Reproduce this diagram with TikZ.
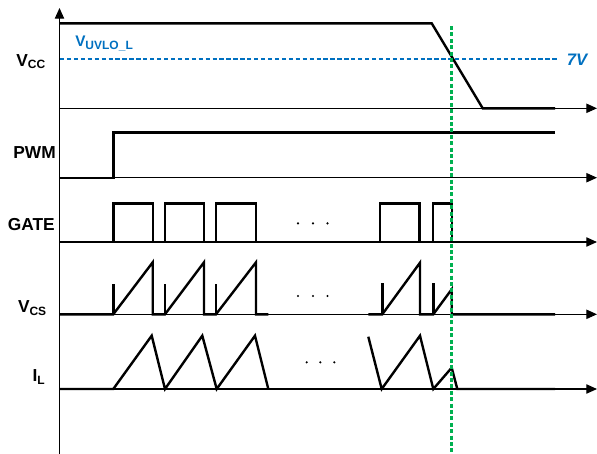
\documentclass[tikz,border=0pt]{standalone}
\usepackage{fontspec}
\setmainfont{Liberation Sans}
\usetikzlibrary{arrows.meta}
\definecolor{uvloblue}{HTML}{0070C0}
\definecolor{markgreen}{HTML}{00B050}
\newcommand{\subtxt}[1]{\raisebox{-2.2pt}{\fontsize{9}{9}\selectfont #1}}

\begin{document}
\begin{tikzpicture}[x=0.75pt,y=-0.75pt,
  axis/.style={line width=0.8pt, -{Triangle[length=8pt,width=7pt]}},
  wave/.style={line width=1.8pt, line join=miter},
  lbl/.style={font=\fontsize{13}{13}\selectfont\bfseries, anchor=base east, inner sep=0pt},
  dotmark/.style={fill=black, circle, inner sep=0pt, minimum size=1.8pt}]
\useasboundingbox (0,0) rectangle (597,454);

% axes
\draw[axis] (59.5,454) -- (59.5,8);
\foreach \yy in {108.3,177.7,242,314.3,389}
  \draw[axis] (59.5,\yy) -- (597,\yy);

% UVLO threshold
\draw[uvloblue, line width=1.7pt, dash pattern=on 3.2pt off 2pt] (60,59) -- (558,59);
\node[font=\fontsize{11.5}{11.5}\selectfont\bfseries, text=uvloblue, anchor=base west, inner sep=0pt]
  (uvlo) at (75,46.7) {V\raisebox{-1.8pt}{\fontsize{9}{9}\selectfont UVLO\_L}};
\node[font=\fontsize{12.5}{12.5}\selectfont\bfseries\itshape, text=uvloblue, anchor=base west, inner sep=0pt]
  (sevenv) at (566.5,65) {7V};

% signal labels
\node[lbl] (lvcc)  at (45.5,66)   {V\subtxt{CC}};
\node[lbl] (lpwm)  at (56,158.3)  {PWM};
\node[lbl] (lgate) at (55,230.7)  {GATE};
\node[lbl] (lvcs)  at (46.5,312.7){V\subtxt{CS}};
\node[lbl] (lil)   at (45,381.7)  {I\subtxt{L}};

% VCC
\draw[wave] (59.5,23.3) -- (431.7,23.3) -- (482.7,108.3) -- (555,108.3);

% PWM
\draw[wave] (59.5,177.7) -- (113.3,177.7) -- (113.3,132.3) -- (555,132.3);

% GATE
\draw[wave] (59.5,242) -- (113.3,242) -- (113.3,203.3) -- (152.7,203.3) -- (152.7,242)
  -- (165,242) -- (165,203.3) -- (204,203.3) -- (204,242)
  -- (216,242) -- (216,203.3) -- (256,203.3) -- (256,242) -- (268.3,242);
\draw[wave] (366.7,242) -- (380,242) -- (380,203.3) -- (419.3,203.3) -- (419.3,242)
  -- (432.7,242) -- (432.7,203.3) -- (451.7,203.3) -- (451.7,242) -- (555,242);

% VCS
\draw[wave] (59.5,314.3) -- (113.3,314.3) -- (152.7,262.3) -- (152.7,314.3)
  -- (165,314.3) -- (204,262.3) -- (204,314.3)
  -- (216,314.3) -- (256,262.3) -- (256,314.3) -- (268.3,314.3);
\foreach \xx in {113.3,165,216}
  \draw[wave] (\xx,314.3) -- (\xx,284.3);
\draw[wave] (368.3,314.3) -- (382.3,314.3) -- (420,262.7) -- (420,314.3)
  -- (433.3,314.3) -- (451.7,289.3) -- (451.7,314.3) -- (555,314.3);
\foreach \xx in {382.3,433.3}
  \draw[wave] (\xx,314.3) -- (\xx,283.3);

% IL
\draw[wave] (59.5,389) -- (113.3,389) -- (151.7,335.7) -- (165,389) -- (202.3,335.7)
  -- (216.7,389) -- (255,335.7) -- (268.3,389);
\draw[wave] (368.3,336.7) -- (381.7,389) -- (420,335.7) -- (433.3,389)
  -- (451.7,367.7) -- (457.3,389) -- (555,389);

% ellipses
\foreach \xx in {298,313,327.5} {
  \node[dotmark] at (\xx,223.3) {};
  \node[dotmark] at (\xx,296) {};
}
\foreach \xx in {306.7,320.3,334.3}
  \node[dotmark] at (\xx,362.3) {};

% shutdown instant
\draw[markgreen, line width=1.9pt, dash pattern=on 3pt off 1.8pt] (451.7,26) -- (451.7,454);
\end{tikzpicture}
\end{document}
